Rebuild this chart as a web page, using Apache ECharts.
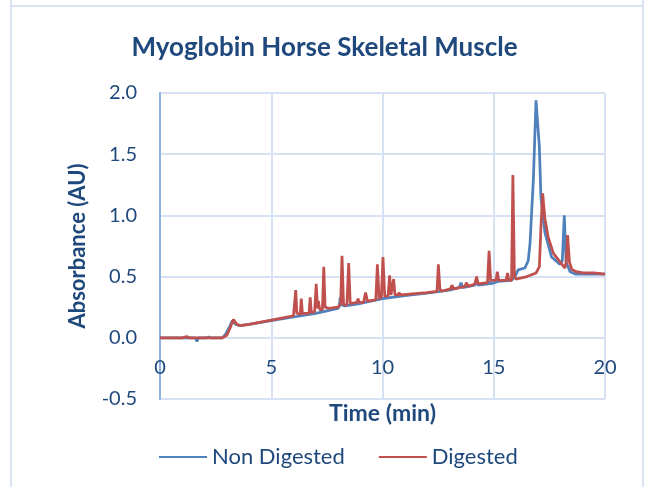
<!DOCTYPE html>
<html>
<head>
<meta charset="utf-8">
<script src="https://cdn.jsdelivr.net/npm/echarts@6/dist/echarts.min.js"></script>
<style>
  html, body { margin: 0; padding: 0; background: #fff; }
  #main { width: 649px; height: 487px; }
</style>
</head>
<body>
<div id="main"></div>
<script>
// retention time (min), absorbance (AU) pairs
var nonDigested = [
    [0, 0], [1.15, 0], [1.2, 0.01], [1.25, 0], [1.6, 0], [1.66, -0.03], [1.72, 0],
    [2.1, 0], [2.2, 0.005], [2.3, 0], [2.8, 0], [2.95, 0.03], [3.1, 0.08], [3.25, 0.14],
    [3.4, 0.11], [3.6, 0.10], [4.0, 0.11], [5.0, 0.14], [6.0, 0.17], [7.0, 0.2],
    [8.0, 0.24], [8.06, 0.26], [8.1, 0.33], [8.15, 0.27], [8.3, 0.26], [9.0, 0.28],
    [10.0, 0.32], [11.0, 0.345], [12.0, 0.365], [13.0, 0.39], [13.45, 0.41], [13.53, 0.45],
    [13.6, 0.41], [14.15, 0.43], [14.22, 0.46], [14.3, 0.43], [14.75, 0.44], [14.8, 0.46],
    [14.85, 0.44], [15.2, 0.46], [15.8, 0.47], [15.95, 0.5], [16.1, 0.555], [16.4, 0.57],
    [16.55, 0.63], [16.63, 0.77], [16.78, 1.29], [16.9, 1.94], [17.05, 1.56], [17.12, 1.15],
    [17.3, 0.86], [17.6, 0.66], [17.98, 0.6], [18.08, 0.63], [18.17, 1.0], [18.25, 0.62],
    [18.43, 0.54], [18.7, 0.52], [19.5, 0.52], [20, 0.52]
];

var digested = [
    [0, 0], [1.0, 0], [1.2, 0.01], [1.3, 0], [2.0, 0], [2.8, 0], [3.0, 0.02], [3.15, 0.08],
    [3.3, 0.15], [3.45, 0.11], [3.6, 0.10], [4.0, 0.11], [5.0, 0.145], [6.0, 0.18],
    [6.05, 0.19], [6.1, 0.39], [6.15, 0.2], [6.3, 0.19], [6.35, 0.32], [6.4, 0.2],
    [6.7, 0.2], [6.75, 0.33], [6.8, 0.21], [6.95, 0.21], [7.02, 0.44], [7.08, 0.24],
    [7.12, 0.3], [7.18, 0.23], [7.3, 0.23], [7.36, 0.58], [7.42, 0.25], [7.6, 0.24],
    [8.0, 0.25], [8.12, 0.28], [8.18, 0.67], [8.25, 0.27], [8.4, 0.27], [8.48, 0.61],
    [8.55, 0.28], [8.85, 0.29], [8.9, 0.32], [8.95, 0.29], [9.15, 0.29], [9.24, 0.37],
    [9.32, 0.30], [9.7, 0.31], [9.77, 0.6], [9.85, 0.32], [9.95, 0.33], [10.02, 0.66],
    [10.1, 0.34], [10.25, 0.34], [10.32, 0.51], [10.38, 0.35], [10.44, 0.35], [10.5, 0.48],
    [10.56, 0.35], [10.7, 0.35], [10.75, 0.37], [10.8, 0.35], [12.0, 0.37], [12.45, 0.38],
    [12.51, 0.6], [12.58, 0.40], [12.65, 0.38], [13.05, 0.40], [13.12, 0.43], [13.2, 0.40],
    [13.7, 0.42], [13.78, 0.45], [13.85, 0.42], [14.15, 0.44], [14.23, 0.50], [14.3, 0.44],
    [14.72, 0.45], [14.79, 0.71], [14.86, 0.47], [15.1, 0.47], [15.16, 0.54], [15.22, 0.47],
    [15.55, 0.47], [15.62, 0.53], [15.68, 0.47], [15.8, 0.47], [15.86, 1.33], [15.93, 0.50],
    [16.0, 0.48], [16.5, 0.50], [16.9, 0.53], [17.05, 0.58], [17.12, 0.9], [17.2, 1.18],
    [17.3, 0.97], [17.45, 0.82], [17.68, 0.69], [17.98, 0.62], [18.2, 0.57], [18.26, 0.62],
    [18.32, 0.84], [18.4, 0.62], [18.5, 0.56], [18.7, 0.54], [19.0, 0.53], [19.5, 0.53],
    [20, 0.52]
];

var seriesNames = ["Non Digested", "Digested"];
var seriesColors = ["#4F81BD", "#C0504D"];

var textColor = "#1F497D";
var gridColor = "#D6E2F3";
var fontName = "Lato";

var option = {
    backgroundColor: "#ffffff",
    animation: false,
    // outer chart frame
    graphic: [
        { type: "rect", shape: { x: 11, y: 6, width: 632, height: 490 },
          style: { fill: "none", stroke: "#D9E3F2", lineWidth: 2 } },
        { type: "line", shape: { x1: 11, y1: 0, x2: 11, y2: 6 }, style: { stroke: "#D9E3F2", lineWidth: 2 } },
        { type: "line", shape: { x1: 643, y1: 0, x2: 643, y2: 6 }, style: { stroke: "#D9E3F2", lineWidth: 2 } }
    ],
    title: {
        text: "Myoglobin Horse Skeletal Muscle",
        left: "center",
        top: 30,
        textStyle: { color: textColor, fontFamily: fontName, fontWeight: "bold", fontSize: 26 }
    },
    legend: {
        top: 441,
        left: 154,
        icon: "rect",
        itemWidth: 48,
        itemHeight: 2,
        itemGap: 34,
        textStyle: { color: textColor, fontFamily: fontName, fontSize: 22 },
        data: seriesNames
    },
    grid: { left: 160, right: 44, top: 93, bottom: 88 },
    xAxis: {
        type: "value",
        min: 0, max: 20, interval: 5,
        name: "Time (min)",
        nameLocation: "middle",
        nameGap: 3,
        nameTextStyle: { color: textColor, fontFamily: fontName, fontWeight: "bold", fontSize: 23 },
        axisLine: { show: false },
        axisTick: { show: false },
        // labels sit just under the zero line, as in the original
        axisLabel: { color: textColor, fontFamily: fontName, fontSize: 20, margin: -41 },
        splitLine: { show: true, lineStyle: { color: gridColor, width: 2 } }
    },
    yAxis: {
        type: "value",
        min: -0.5, max: 2.0, interval: 0.5,
        name: "Absorbance (AU)",
        nameLocation: "middle",
        nameGap: 71,
        nameTextStyle: { color: textColor, fontFamily: fontName, fontWeight: "bold", fontSize: 22 },
        axisLine: { show: true, lineStyle: { color: "#8EB1E0", width: 2 } },
        axisTick: { show: false },
        axisLabel: { color: textColor, fontFamily: fontName, fontSize: 20, margin: 23,
                     formatter: function (v) { return v.toFixed(1); } },
        splitLine: { show: true, lineStyle: { color: gridColor, width: 2 } }
    },
    series: [
        { name: seriesNames[0], type: "line", data: nonDigested, showSymbol: false,
          color: seriesColors[0], lineStyle: { width: 2.75, color: seriesColors[0] } },
        { name: seriesNames[1], type: "line", data: digested, showSymbol: false,
          color: seriesColors[1], lineStyle: { width: 2.75, color: seriesColors[1] } }
    ]
};

var myChart = echarts.init(document.getElementById("main"));
myChart.setOption(option);
</script>
</body>
</html>
